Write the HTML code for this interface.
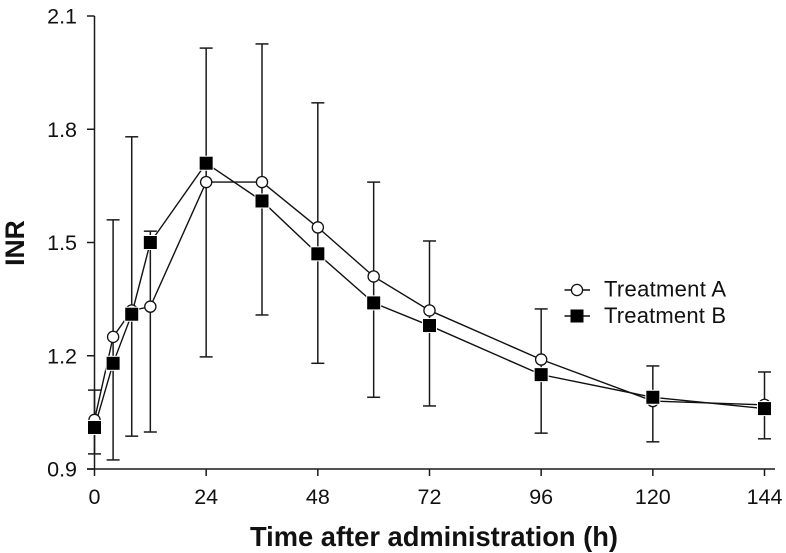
<!DOCTYPE html>
<html>
<head>
<meta charset="utf-8">
<title>INR over time</title>
<style>
html,body{margin:0;padding:0;background:#fff;width:786px;height:553px;overflow:hidden}
svg{display:block}
text{font-family:"Liberation Sans",Arial,sans-serif;fill:#111}
</style>
</head>
<body>
<svg id="chart" width="786" height="553" viewBox="0 0 786 553">
<text x="24" y="243" transform="rotate(-90 24 243)" text-anchor="middle" font-size="26.5" font-weight="bold">INR</text>
<text x="434" y="546" text-anchor="middle" font-size="27.3" font-weight="bold">Time after administration (h)</text>
</svg>
<script>
const hours = [0, 4, 8, 12, 24, 36, 48, 60, 72, 96, 120, 144];
const treatmentA = [1.03, 1.25, 1.32, 1.33, 1.66, 1.66, 1.54, 1.41, 1.32, 1.19, 1.08, 1.07];
const treatmentB = [1.01, 1.18, 1.31, 1.50, 1.71, 1.61, 1.47, 1.34, 1.28, 1.15, 1.09, 1.06];
const errorHigh = [1.109, 1.56, 1.78, 1.53, 2.015, 2.026, 1.87, 1.66, 1.504, 1.324, 1.173, 1.157];
const errorLow = [0.94, 0.924, 0.987, 0.998, 1.197, 1.308, 1.18, 1.09, 1.067, 0.995, 0.972, 0.98];
const xTickValues = [0, 24, 48, 72, 96, 120, 144];
const yTickValues = [0.9, 1.2, 1.5, 1.8, 2.1];

const svg = document.getElementById('chart');
const NS = 'http://www.w3.org/2000/svg';
const xScale = function (h) { return 94.5 + h * (670 / 144); };
const yScale = function (v) { return 469 - (v - 0.9) * (453 / 1.2); };

function make(tag, attrs, parent) {
  const el = document.createElementNS(NS, tag);
  for (const k in attrs) { el.setAttribute(k, attrs[k]); }
  (parent || svg).appendChild(el);
  return el;
}
function group(parent) {
  return make('g', {}, parent);
}
const stroke = '#1a1a1a';
const axisWidth = 1.5;

// Axes
const yAxis = make('line', { x1: 94.5, x2: 94.5, y1: yScale(2.1), y2: 469.5, stroke: stroke, 'stroke-width': axisWidth });


const xAxis = make('line', { x1: 87, x2: 775, y1: 469, y2: 469, stroke: stroke, 'stroke-width': axisWidth });



yTickValues.forEach(function (v) {
  const y = yScale(v);
  const tick = make('line', { x1: 87, x2: 94.5, y1: y, y2: y, stroke: stroke, 'stroke-width': axisWidth });
  
  
  const label = make('text', { x: 77, y: y + 7.5, 'text-anchor': 'end', 'font-size': 21.5 });
  
  
  label.textContent = v.toFixed(1);
});
xTickValues.forEach(function (h) {
  const x = xScale(h);
  const tick = make('line', { x1: x, x2: x, y1: 469, y2: 476, stroke: stroke, 'stroke-width': axisWidth });
  
  
  const label = make('text', { x: x, y: 504, 'text-anchor': 'middle', 'font-size': 21.5 });
  
  
  label.textContent = h;
});

// Error bars
hours.forEach(function (h, i) {
  const x = xScale(h);
  const g = group();
  
  
  make('line', { x1: x, x2: x, y1: yScale(errorHigh[i]), y2: yScale(errorLow[i]), stroke: stroke, 'stroke-width': axisWidth }, g);
  make('line', { x1: x - 6.5, x2: x + 6.5, y1: yScale(errorHigh[i]), y2: yScale(errorHigh[i]), stroke: stroke, 'stroke-width': axisWidth }, g);
  make('line', { x1: x - 6.5, x2: x + 6.5, y1: yScale(errorLow[i]), y2: yScale(errorLow[i]), stroke: stroke, 'stroke-width': axisWidth }, g);
});

// Series
function polyPoints(values) {
  return hours.map(function (h, i) { return xScale(h) + ',' + yScale(values[i]); }).join(' ');
}
const lineA = make('polyline', { points: polyPoints(treatmentA), fill: 'none', stroke: '#111', 'stroke-width': 1.4 });


const lineB = make('polyline', { points: polyPoints(treatmentB), fill: 'none', stroke: '#111', 'stroke-width': 1.4 });



hours.forEach(function (h, i) {
  const c = make('circle', { cx: xScale(h), cy: yScale(treatmentA[i]), r: 5.6, fill: '#fff', stroke: '#111', 'stroke-width': 1.3 });
  
  
});
hours.forEach(function (h, i) {
  const s = make('rect', { x: xScale(h) - 6.5, y: yScale(treatmentB[i]) - 6.5, width: 13, height: 13, fill: '#000', stroke: '#fff', 'stroke-width': 2, 'paint-order': 'stroke' });
  
  
});

// Legend
const legendA = group();


make('line', { x1: 564.5, x2: 590, y1: 290, y2: 290, stroke: '#111', 'stroke-width': 1.4 }, legendA);
make('circle', { cx: 577, cy: 290, r: 5.6, fill: '#fff', stroke: '#111', 'stroke-width': 1.3 }, legendA);
const legendAText = make('text', { x: 604, y: 296.5, 'font-size': 22, textLength: 122 }, legendA);
legendAText.textContent = 'Treatment A';

const legendB = group();


make('line', { x1: 564.5, x2: 590, y1: 316, y2: 316, stroke: '#111', 'stroke-width': 1.4 }, legendB);
make('rect', { x: 570.5, y: 309.5, width: 13, height: 13, fill: '#000' }, legendB);
const legendBText = make('text', { x: 604, y: 323, 'font-size': 22, textLength: 122 }, legendB);
legendBText.textContent = 'Treatment B';
</script>
</body>
</html>
